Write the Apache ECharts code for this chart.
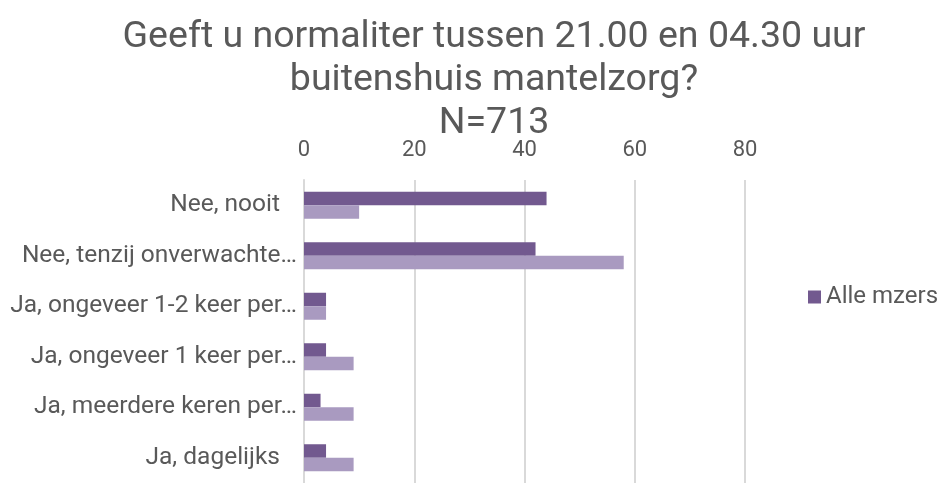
<!DOCTYPE html>
<html>
<head>
<meta charset="utf-8">
<script src="https://cdn.jsdelivr.net/npm/echarts@6/dist/echarts.min.js"></script>
<style>
html,body{margin:0;padding:0;background:#fff;}
#main{width:939px;height:483px;}
</style>
</head>
<body>
<div id="main"></div>
<script>
// categorieen en waarden
var categories = ['Nee, nooit', 'Nee, tenzij onverwachte…', 'Ja, ongeveer 1-2 keer per…',
  'Ja, ongeveer 1 keer per…', 'Ja, meerdere keren per…', 'Ja, dagelijks'];
var alleMzers = [44, 42, 4, 4, 3, 4];
var tweedeReeks = [10, 58, 4, 9, 9, 9];
var ticks = [0, 20, 40, 60, 80];

var chart = echarts.init(document.getElementById('main'));
var option = {
  textStyle: {fontFamily: 'Roboto'},
  title: {
    text: 'Geeft u normaliter tussen 21.00 en 04.30 uur\nbuitenshuis mantelzorg?\nN=713',
    left: 489, textAlign: 'center', top: 11,
    textStyle: {fontSize: 37.5, fontWeight: 'normal', color: '#595959', lineHeight: 43, fontFamily: 'Roboto'}
  },
  legend: {
    data: ['Alle mzers'],
    left: 808, top: 285, padding: 0,
    itemWidth: 13, itemHeight: 13, itemGap: 5,
    icon: 'rect',
    textStyle: {fontSize: 24, color: '#595959', fontFamily: 'Roboto'}
  },
  grid: {left: 304, right: 194, top: 180, bottom: -7, containLabel: false},
  xAxis: {
    type: 'value', position: 'top', min: 0, max: 80, interval: 20,
    axisLine: {show: false}, axisTick: {show: false},
    axisLabel: {fontSize: 22, color: '#595959', margin: 19,
      formatter: function (v) { return ticks.indexOf(v) >= 0 ? String(v) : ''; }},
    splitLine: {lineStyle: {color: '#d9d9d9', width: 2}}
  },
  yAxis: {
    type: 'category', inverse: true, data: categories,
    axisLine: {lineStyle: {color: '#d9d9d9', width: 2}}, axisTick: {show: false},
    axisLabel: {fontSize: 24.5, color: '#595959', margin: 7,
      formatter: function (v) { return v.slice(-1) === '…' ? v : '{p|' + v + '}'; },
      rich: {p: {fontSize: 24.5, color: '#595959', padding: [0, 17, 0, 0]}}}
  },
  series: [
    {name: 'Alle mzers', type: 'bar', data: alleMzers, barWidth: 13.5, barGap: '0%',
      itemStyle: {color: '#72598f'}},
    {name: 'Tweede', type: 'bar', data: tweedeReeks, barWidth: 13.5, barGap: '0%',
      itemStyle: {color: '#a99ac0'}}
  ]
};
chart.setOption(option);
</script>
</body>
</html>
